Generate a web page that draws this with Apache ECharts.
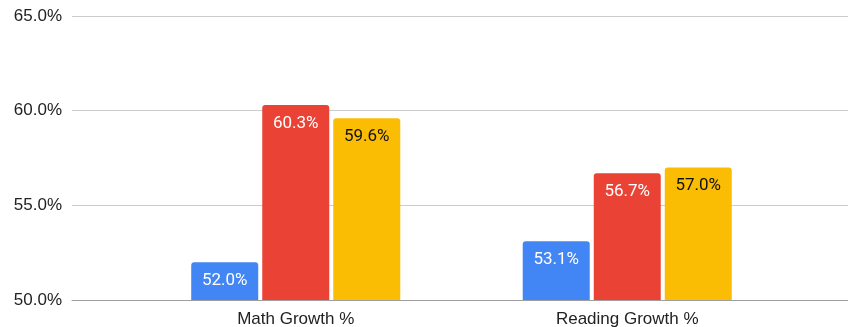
<!DOCTYPE html>
<html>
<head>
<meta charset="utf-8">
<script src="https://cdn.jsdelivr.net/npm/echarts@6/dist/echarts.min.js"></script>
<style>
  html, body { margin: 0; padding: 0; background: #fff; }
  #chart { width: 848px; height: 327px; }
</style>
</head>
<body>
<div id="chart"></div>
<script>
const categories = ['Math Growth %', 'Reading Growth %']
const seriesBlue = [52.0, 53.1]
const seriesRed = [60.3, 56.7]
const seriesYellow = [59.6, 57.0]
const yTicks = { min: 50, max: 65, interval: 5 }

const chart = echarts.init(document.getElementById('chart'))

// labels inside the top of each bar
const barLabel = (color) => ({
  show: true,
  position: 'insideTop',
  distance: 10,
  color: color,
  fontFamily: 'Roboto',
  fontSize: 17,
  formatter: (p) => p.value.toFixed(1) + '%'
})

const makeBar = (name, data, color, labelColor) => ({
  name,
  type: 'bar',
  xAxisIndex: 1,
  yAxisIndex: 1,
  data,
  barWidth: 67,
  barGap: '6%',
  itemStyle: { color, borderRadius: [3, 3, 0, 0] },
  label: barLabel(labelColor)
})

chart.setOption({
  animation: false,
  grid: [
    { left: 72, right: 0, top: 16, bottom: 27, outerBoundsMode: 'none' },
    { left: 130, right: 55, top: 16, bottom: 27, outerBoundsMode: 'none' }
  ],
  xAxis: [
    {
      gridIndex: 0,
      type: 'value',
      min: 0,
      max: 1,
      axisLabel: { show: false },
      axisTick: { show: false },
      splitLine: { show: false },
      axisLine: { show: true, lineStyle: { color: '#9e9e9e', width: 1 } }
    },
    {
      gridIndex: 1,
      type: 'category',
      data: categories,
      axisLine: { show: false },
      axisTick: { show: false },
      axisLabel: {
        color: '#222',
        fontFamily: 'Liberation Sans',
        fontSize: 17,
        margin: 11
      }
    }
  ],
  yAxis: [
    {
      gridIndex: 0,
      type: 'value',
      min: yTicks.min,
      max: yTicks.max,
      interval: yTicks.interval,
      axisLine: { show: false },
      axisTick: { show: false },
      axisLabel: {
        color: '#222',
        fontFamily: 'Liberation Sans',
        fontSize: 17,
        margin: 10,
        formatter: (v) => v.toFixed(1) + '%'
      },
      splitLine: { lineStyle: { color: '#cccccc', width: 1 } }
    },
    {
      gridIndex: 1,
      type: 'value',
      min: yTicks.min,
      max: yTicks.max,
      interval: yTicks.interval,
      show: false
    }
  ],
  series: [
    makeBar('Blue', seriesBlue, '#4285F4', '#fff'),
    makeBar('Red', seriesRed, '#EA4335', '#fff'),
    makeBar('Yellow', seriesYellow, '#FBBC04', '#111')
  ]
})
</script>
</body>
</html>
